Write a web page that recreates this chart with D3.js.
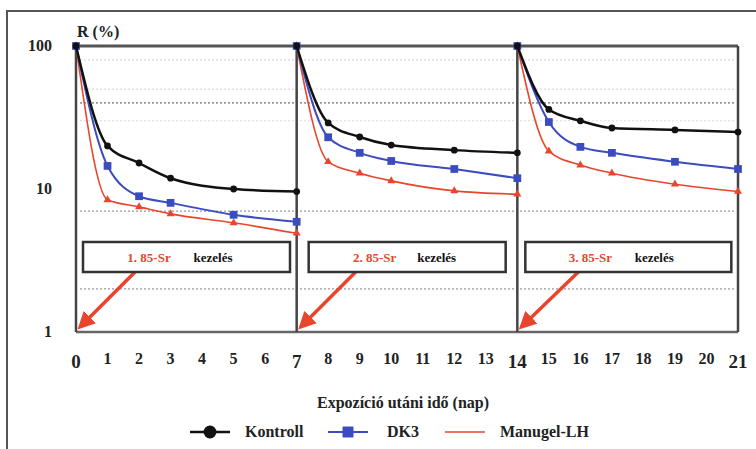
<!DOCTYPE html>
<html>
<head>
<meta charset="utf-8">
<title>R (%) - Expozíció utáni idő</title>
<script src="https://d3js.org/d3.v7.min.js"></script>
<style>
  body { margin: 0; background: #fff; }
  svg { display: block; }
</style>
</head>
<body>
<script>
// data (R %, log scale)
var days = [0, 1, 2, 3, 5, 7];
var daysSeg2 = [7, 8, 9, 10, 12, 14];
var daysSeg3 = [14, 15, 16, 17, 19, 21];

var kontroll1 = [100, 20, 15.2, 11.9, 10, 9.6];
var kontroll2 = [100, 29, 23.1, 20.3, 18.7, 17.9];
var kontroll3 = [100, 36, 30, 26.7, 25.9, 25];

var dk3_1 = [100, 14.5, 8.9, 8.0, 6.6, 5.9];
var dk3_2 = [100, 23, 17.9, 15.7, 13.8, 11.9];
var dk3_3 = [100, 29.4, 19.7, 17.9, 15.5, 13.8];

var manugel1 = [100, 8.4, 7.5, 6.7, 5.8, 4.9];
var manugel2 = [100, 15.5, 12.9, 11.4, 9.7, 9.2];
var manugel3 = [100, 18.4, 14.7, 12.9, 10.8, 9.6];

var xTicks = d3.range(0, 22);
var yTicks = [1, 10, 100];
var gridValues = [80, 50, 40, 30, 7, 2];
var treatments = ["1. 85-Sr", "2. 85-Sr", "3. 85-Sr"];
var treatmentStart = [0, 7, 14];
var seriesNames = ["Kontroll", "DK3", "Manugel-LH"];

var W = 756, H = 449;
var margin = { top: 46, right: 18, bottom: 117, left: 76 };
var width = W - margin.left - margin.right,
    height = H - margin.top - margin.bottom;

var svg = d3.select("body").append("svg")
    .attr("width", W)
    .attr("height", H)
    .attr("font-family", "'Liberation Serif', 'Times New Roman', Tinos, 'DejaVu Serif', serif")
    .attr("font-weight", "bold");

// outer frame (cropped at right and bottom)
svg.append("path")
    .attr("d", "M7," + H + " L7,11 L" + W + ",11")
    .attr("fill", "none")
    .attr("stroke", "#555")
    .attr("stroke-width", 2);

var g = svg.append("g")
    .attr("transform", "translate(" + margin.left + "," + margin.top + ")");

var x = d3.scaleLinear().domain([0, 21]).range([0, width]);
var y = d3.scaleLog().domain([1, 100]).range([height, 0]);

// faint dotted gridlines
g.selectAll(".grid")
    .data(gridValues)
    .enter()
    .append("line")
    .attr("x1", 4)
    .attr("x2", width - 4)
    .attr("y1", function(d) { return y(d); })
    .attr("y2", function(d) { return y(d); })
    .attr("stroke", function(d) { return (d == 40 || d == 7 || d == 2) ? "#999" : "#dcdcdc"; })
    .attr("stroke-width", function(d) { return d == 40 ? 1.8 : 1.2; })
    .attr("stroke-dasharray", "2,2");

// frame of the plot: top, bottom and the vertical lines at 0, 7, 14, 21
g.append("line")
    .attr("x1", 0).attr("x2", x(21))
    .attr("y1", y(100)).attr("y2", y(100))
    .attr("stroke", "#555").attr("stroke-width", 3);
g.append("line")
    .attr("x1", 0).attr("x2", x(21))
    .attr("y1", y(1)).attr("y2", y(1))
    .attr("stroke", "#666").attr("stroke-width", 2.5);
g.selectAll(".vline")
    .data([0, 7, 14, 21])
    .enter()
    .append("line")
    .attr("x1", function(d) { return x(d); })
    .attr("x2", function(d) { return x(d); })
    .attr("y1", y(100))
    .attr("y2", y(1))
    .attr("stroke", "#444")
    .attr("stroke-width", 2.5);

// y tick labels
g.selectAll(".ylab")
    .data(yTicks)
    .enter()
    .append("text")
    .attr("x", -24)
    .attr("y", function(d) { return y(d) + 5; })
    .attr("text-anchor", "end")
    .attr("font-size", 16)
    .attr("fill", "#222")
    .text(function(d) { return d; });

g.append("text")
    .attr("x", 1)
    .attr("y", -9)
    .attr("font-size", 16)
    .attr("fill", "#222")
    .text("R (%)");

// x tick labels
g.selectAll(".xlab")
    .data(xTicks)
    .enter()
    .append("text")
    .attr("x", function(d) { return x(d); })
    .attr("y", function(d) { return height + (d % 7 == 0 ? 36 : 32); })
    .attr("text-anchor", "middle")
    .attr("font-size", function(d) { return d % 7 == 0 ? 19 : 16; })
    .attr("fill", "#222")
    .text(function(d) { return d; });

g.append("text")
    .attr("x", 327)
    .attr("y", height + 76)
    .attr("text-anchor", "middle")
    .attr("font-size", 16)
    .attr("fill", "#222")
    .text("Expozíció utáni idő (nap)");

// series
var series = [
    { name: seriesNames[0], color: "#111", width: 2.5, marker: "circle", segs: [kontroll1, kontroll2, kontroll3] },
    { name: seriesNames[1], color: "#3b4cc0", width: 2, marker: "square", segs: [dk3_1, dk3_2, dk3_3] },
    { name: seriesNames[2], color: "#e8452c", width: 1.6, marker: "triangle", segs: [manugel1, manugel2, manugel3] }
];
var segDays = [days, daysSeg2, daysSeg3];

var line = d3.line()
    .x(function(d) { return x(d[0]); })
    .y(function(d) { return y(d[1]); })
    .curve(d3.curveMonotoneX);

// draw red first so black stays on top
series.slice().reverse().forEach(function(s) {
    s.segs.forEach(function(vals, i) {
        var pts = vals.map(function(v, j) { return [segDays[i][j], v]; });
        g.append("path")
            .datum(pts)
            .attr("fill", "none")
            .attr("stroke", s.color)
            .attr("stroke-width", s.width)
            .attr("d", line);

        var sym = s.marker == "circle" ? d3.symbolCircle : (s.marker == "square" ? d3.symbolSquare : d3.symbolTriangle);
        var size = s.marker == "circle" ? 36 : (s.marker == "square" ? 60 : 28);
        g.selectAll(null)
            .data(pts)
            .enter()
            .append("path")
            .attr("transform", function(d) { return "translate(" + x(d[0]) + "," + y(d[1]) + ")"; })
            .attr("d", d3.symbol().type(sym).size(size))
            .attr("fill", s.color);
    });
});

// treatment boxes with arrows
var defs = svg.append("defs");
defs.append("marker")
    .attr("id", "arrow")
    .attr("viewBox", "0 0 10 10")
    .attr("refX", 8)
    .attr("refY", 5)
    .attr("markerWidth", 5)
    .attr("markerHeight", 5)
    .attr("orient", "auto")
    .append("path")
    .attr("d", "M0,0 L10,5 L0,10 z")
    .attr("fill", "#e8452c");

var boxes = g.selectAll(".box")
    .data(treatments)
    .enter()
    .append("g")
    .attr("class", "box")
    .attr("transform", function(d, i) { return "translate(" + x(treatmentStart[i]) + ",0)"; });

boxes.append("line")
    .attr("x1", function(d, i) { return i == 2 ? 61 : 59; })
    .attr("y1", 226)
    .attr("x2", 4)
    .attr("y2", 281)
    .attr("stroke", "#e8452c")
    .attr("stroke-width", 3.5)
    .attr("marker-end", "url(#arrow)");

boxes.append("rect")
    .attr("x", function(d, i) { return i == 2 ? 8 : (i == 1 ? 12 : 7); })
    .attr("y", 196)
    .attr("width", function(d, i) { return i == 2 ? 206 : (i == 1 ? 197 : 207); })
    .attr("height", 30)
    .attr("fill", "#fff")
    .attr("stroke", "#333")
    .attr("stroke-width", 2.5);

boxes.append("text")
    .attr("x", function(d, i) { return i == 1 ? 78 : 73; })
    .attr("y", 216)
    .attr("text-anchor", "middle")
    .attr("font-size", 13)
    .attr("fill", "#e8452c")
    .text(function(d) { return d; });

boxes.append("text")
    .attr("x", function(d, i) { return i == 1 ? 140 : 137; })
    .attr("y", 216)
    .attr("text-anchor", "middle")
    .attr("font-size", 13)
    .attr("fill", "#111")
    .text("kezelés");

// legend
var legendX = [190, 328, 445];
var legendTextX = [245, 387, 500];
var lg = svg.append("g");
series.forEach(function(s, i) {
    lg.append("line")
        .attr("x1", legendX[i]).attr("x2", legendX[i] + 40)
        .attr("y1", 432).attr("y2", 432)
        .attr("stroke", s.color)
        .attr("stroke-width", s.width);
    if (s.marker != "triangle") {
        lg.append("path")
            .attr("transform", "translate(" + (legendX[i] + 20) + ",432)")
            .attr("d", d3.symbol().type(s.marker == "circle" ? d3.symbolCircle : d3.symbolSquare).size(s.marker == "circle" ? 130 : 120))
            .attr("fill", s.color);
    }
    lg.append("text")
        .attr("x", legendTextX[i])
        .attr("y", 437)
        .attr("font-size", 16)
        .attr("fill", "#222")
        .text(s.name);
});
</script>
</body>
</html>
